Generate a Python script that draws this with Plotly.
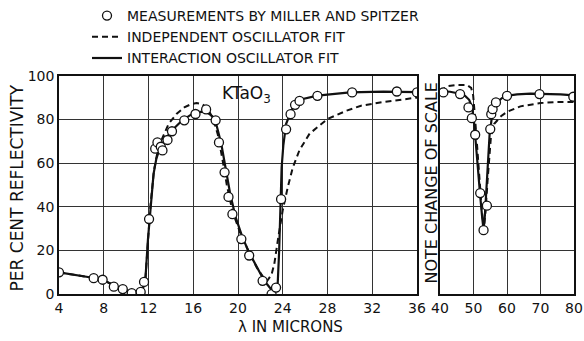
import plotly.graph_objects as go

# ---------------- data ----------------
# measured points, 4-36 micron panel
meas_x_left = [4, 7.1, 7.9, 8.9, 9.7, 10.5, 11.3, 11.6, 12.05, 12.6, 12.8, 13.1, 13.25,
               13.7, 14.1, 15.2, 16.2, 17.15, 18.0, 18.3, 18.8, 19.15, 19.5, 20.3, 21.0,
               22.2, 23.0, 23.4, 23.85, 24.3, 24.7, 25.1, 25.5, 27.1, 30.2, 34.2, 36.0]
meas_y_left = [10, 7.3, 6.6, 3.4, 2.3, 0.5, 1.0, 5.6, 34.4, 66.6, 69.5, 67.5, 65.8,
               70.6, 74.6, 79.6, 82.5, 84.6, 79.6, 69.5, 55.8, 44.5, 36.6, 25.2, 17.7,
               6.1, 0.0, 3.0, 43.5, 75.5, 82.4, 86.7, 88.5, 90.8, 92.4, 92.8, 92.4]

# measured points, 40-80 micron panel
meas_x_right = [41, 46, 48.5, 49.5, 50.5, 52, 53, 54, 55, 55.3, 55.7, 56.7, 60, 69.7, 79.8]
meas_y_right = [92.4, 91.6, 85.5, 80.6, 73, 46.3, 29.3, 40.5, 75.6, 82.4, 84.7, 87.8, 90.8, 91.6, 90.4]

# interaction oscillator fit (solid)
solid_x_left = [4, 7, 8, 9, 10, 10.6, 11.3, 11.7, 11.95, 12.2, 12.45, 12.7, 13.0, 13.5, 14.2,
                15.0, 15.8, 16.6, 17.2, 17.7, 18.1, 18.5, 18.9, 19.3, 19.8, 20.4, 21.0, 21.6,
                22.2, 22.6, 23.0, 23.35, 23.55, 23.68, 23.8, 23.9, 24.05, 24.3, 24.9, 25.8,
                27.1, 28.5, 30.0, 33.0, 36.0]
solid_y_left = [10, 7.5, 6.3, 3.8, 1.8, 0.4, 0.8, 5, 25, 42, 55, 62, 66.5, 71, 75.5,
                79.5, 82.2, 83.5, 83.4, 81.5, 77, 69, 57, 46, 35, 26, 19, 13,
                7.5, 4.5, 2, 1.5, 5, 20, 40, 58, 68, 78, 85.5, 89.4,
                90.9, 91.7, 92.4, 92.7, 92.5]

solid_x_right = [40, 43, 46, 47.5, 48.7, 49.5, 50.1, 50.6, 51.2, 52, 52.6, 53.0, 53.4, 53.8,
                 54.3, 54.8, 55.4, 56.2, 57.2, 58.5, 60, 63, 67, 72, 76, 80]
solid_y_right = [93, 92.7, 91.8, 90.8, 89, 86, 80, 70, 58, 45, 35, 29.5, 36, 48,
                 62, 73, 80, 85, 88, 89.8, 90.9, 91.5, 91.8, 91.8, 91.5, 91]

# independent oscillator fit (dashed)
dash_x_left = [4, 7, 8, 9, 10, 10.6, 11.3, 11.7, 11.95, 12.2, 12.5, 12.8, 13.2, 13.8, 14.5,
               15.2, 15.8, 16.3, 16.8, 17.3, 17.8, 18.2, 18.6, 19.0, 19.5, 20.2, 21.0, 21.7,
               22.3, 22.6, 23.0, 23.25, 23.6, 24.0, 24.45, 24.9, 25.5, 26.4, 28.0, 29.7,
               31.0, 33.0, 36.0]
dash_y_left = [10, 7.5, 6.3, 3.8, 1.8, 0.4, 0.8, 5, 24, 42, 57, 65, 71, 78, 82.5,
               85.5, 87, 87.5, 87, 85, 80, 73, 62, 50, 38, 28, 19, 12,
               7.5, 6, 9, 14, 26, 38.5, 49, 58, 66, 73.5, 80.2, 84,
               86.3, 88, 90]

dash_x_right = [40, 42.4, 45, 48, 49.3, 49.9, 50.4, 51, 51.8, 52.5, 53.1, 53.6, 54.2, 54.7,
                55.2, 56.2, 58.2, 60, 64, 70, 75, 80]
dash_y_right = [93, 95.3, 95.8, 95.8, 94.5, 91, 82, 68, 52, 38, 30, 38, 52, 63,
                72, 78, 81.5, 83.5, 86, 87.5, 88, 88]

x_ticks_left = [4, 8, 12, 16, 20, 24, 28, 32, 36]
x_ticks_right = [40, 50, 60, 70, 80]
y_ticks = [0, 20, 40, 60, 80, 100]

legend_labels = ["MEASUREMENTS BY MILLER AND SPITZER",
                 "INDEPENDENT OSCILLATOR FIT",
                 "INTERACTION OSCILLATOR FIT"]

# ---------------- styling ----------------
W, H = 584, 341
FONT = "DejaVu Sans"
INK = "#111111"

marker_style = dict(symbol="circle", size=9, color="white", line=dict(color=INK, width=1.3))
solid_style = dict(color=INK, width=2.2)
dash_style = dict(color=INK, width=2.0, dash="6px,4px")

fig = go.Figure()

# dashed fits
fig.add_trace(go.Scatter(x=dash_x_left, y=dash_y_left, mode="lines", line=dash_style,
                         name=legend_labels[1], xaxis="x", yaxis="y", legendrank=2))
fig.add_trace(go.Scatter(x=dash_x_right, y=dash_y_right, mode="lines", line=dash_style,
                         showlegend=False, xaxis="x2", yaxis="y2"))
# solid fits
fig.add_trace(go.Scatter(x=solid_x_left, y=solid_y_left, mode="lines", line=solid_style,
                         name=legend_labels[2], xaxis="x", yaxis="y", legendrank=3))
fig.add_trace(go.Scatter(x=solid_x_right, y=solid_y_right, mode="lines", line=solid_style,
                         showlegend=False, xaxis="x2", yaxis="y2"))
# measurements
fig.add_trace(go.Scatter(x=meas_x_left, y=meas_y_left, mode="markers", marker=marker_style,
                         name=legend_labels[0], xaxis="x", yaxis="y", legendrank=1))
fig.add_trace(go.Scatter(x=meas_x_right, y=meas_y_right, mode="markers", marker=marker_style,
                         showlegend=False, xaxis="x2", yaxis="y2"))

axis_common = dict(showline=True, linecolor=INK, linewidth=1.6, mirror=True,
                   showgrid=True, gridcolor="#333333", gridwidth=1, ticks="",
                   zeroline=False, automargin=False,
                   tickfont=dict(family=FONT, size=14, color=INK))

fig.update_layout(
    template="none",
    width=W, height=H, autosize=False,
    margin=dict(l=0, r=0, t=0, b=0, pad=0),
    paper_bgcolor="white", plot_bgcolor="white",
    font=dict(family=FONT, color=INK),
    xaxis=dict(domain=[59 / W, 417 / W], range=[4, 36], tickvals=x_ticks_left,
               anchor="y", **axis_common),
    xaxis2=dict(domain=[440 / W, 574 / W], range=[40, 80], tickvals=x_ticks_right,
                anchor="y2", **axis_common),
    yaxis=dict(domain=[(H - 294) / H, (H - 75) / H], range=[0, 100], tickvals=y_ticks,
               anchor="x", **axis_common),
    yaxis2=dict(domain=[(H - 294) / H, (H - 75) / H], range=[0, 100], tickvals=y_ticks,
                anchor="x2", showticklabels=False, matches="y", **axis_common),
    legend=dict(x=87 / W, y=1 + 1 / H, xanchor="left", yanchor="top",
                font=dict(family=FONT, size=14, color=INK),
                bgcolor="rgba(0,0,0,0)", borderwidth=0, tracegroupgap=0,
                itemwidth=30),
    showlegend=True,
)

fig.add_annotation(text="KTaO<sub>3</sub>", x=20.8, y=91.5, xref="x", yref="y",
                   xanchor="center", yanchor="middle",
                   showarrow=False, font=dict(family=FONT, size=17, color=INK))
fig.add_annotation(text="PER CENT REFLECTIVITY", x=17 / W, y=(H - 188) / H,
                   xref="paper", yref="paper", textangle=-90, showarrow=False,
                   xanchor="center", yanchor="middle",
                   font=dict(family=FONT, size=17, color=INK))
fig.add_annotation(text="NOTE CHANGE OF SCALE", x=431 / W, y=(H - 183) / H,
                   xref="paper", yref="paper", textangle=-90, showarrow=False,
                   xanchor="center", yanchor="middle",
                   font=dict(family=FONT, size=16, color=INK))
fig.add_annotation(text="λ IN MICRONS", x=290 / W, y=(H - 327) / H,
                   xref="paper", yref="paper", showarrow=False,
                   xanchor="center", yanchor="middle",
                   font=dict(family=FONT, size=15, color=INK))

fig.write_html(
    "out.html",
    config={"displayModeBar": False},
    post_script="document.body.style.margin='0';document.body.style.overflow='hidden';",
)
